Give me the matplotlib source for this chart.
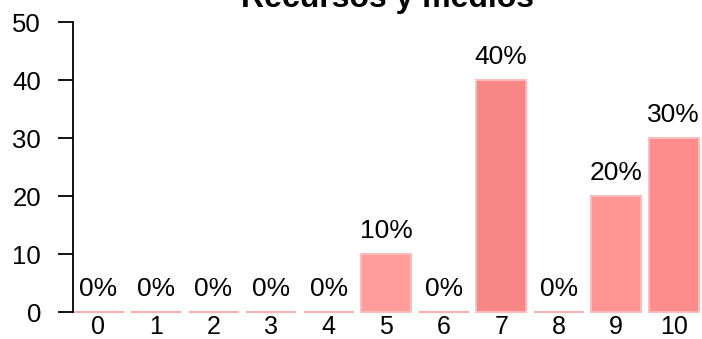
import matplotlib
matplotlib.use("Agg")
import matplotlib.pyplot as plt

categories = ["0", "1", "2", "3", "4", "5", "6", "7", "8", "9", "10"]
values = [0, 0, 0, 0, 0, 10, 0, 40, 0, 20, 30]
percent_labels = ["0%", "0%", "0%", "0%", "0%", "10%", "0%", "40%", "0%", "20%", "30%"]
bar_colors = ["#ffa3a3", "#ffa3a3", "#ffa3a3", "#ffa3a3", "#ffa3a3", "#ff9d9d",
              "#ffa3a3", "#f98686", "#ffa3a3", "#ff9494", "#fe8c8c"]
title = "Recursos y medios"
y_ticks = [0, 10, 20, 30, 40, 50]

plt.rcParams['font.family'] = ['Liberation Sans', 'DejaVu Sans']

W, H = 702, 339
fig = plt.figure(figsize=(W / 100, H / 100), dpi=100)
ax = fig.add_axes([73 / W, (H - 312) / H, (W - 73) / W, (312 - 22) / H])

x = list(range(len(categories)))
edge_colors = ["#ffacac" if v == 0 else "#ffbcbc" for v in values]
bars = ax.bar(x, values, width=0.87, color=bar_colors, edgecolor=edge_colors, linewidth=1.4)
for b in bars:
    b.set_clip_on(False)

for xi, v, lab in zip(x, values, percent_labels):
    ax.annotate(lab, (xi, v), xytext=(0, 11.5), textcoords="offset points",
                ha="center", va="baseline", fontsize=19, color="black",
                annotation_clip=False)

ax.set_xlim(-0.443, 10.49)
ax.set_ylim(0, 50)
ax.set_yticks(y_ticks)
ax.set_xticks(x)
ax.set_xticklabels(categories)
ax.tick_params(axis="y", length=11, width=1.3, pad=12, labelsize=18.5)
ax.tick_params(axis="x", length=0, pad=2, labelsize=18)
for s in ["top", "right", "bottom"]:
    ax.spines[s].set_visible(False)
ax.spines["left"].set_bounds(0, 50)
ax.spines["left"].set_linewidth(1.3)
ax.spines["left"].set_zorder(3)

fig.text((73 + W) / 2 / W, 1 - 7 / H, title, ha="center", va="baseline",
         fontsize=23, fontweight="bold")

fig.savefig("out.png", dpi=100)
